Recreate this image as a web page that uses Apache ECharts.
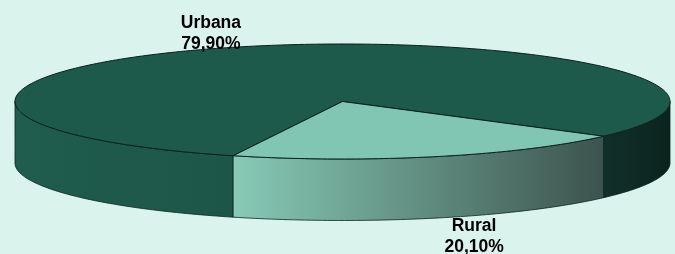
<!DOCTYPE html>
<html>
<head>
<meta charset="utf-8">
<script src="https://cdn.jsdelivr.net/npm/echarts@6/dist/echarts.min.js"></script>
<style>
  html, body { margin: 0; padding: 0; background: #daf3ec; }
  #main { width: 675px; height: 254px; }
</style>
</head>
<body>
<div id="main"></div>
<script>
// categorias
const categories = ['Urbana', 'Rural']
// porcentagem de cada uma
const values = [79.9, 20.1]

// cores do topo e das paredes
const topColors = ['#1d5a4b', '#81c6b2']
const wallColors = [
  { left: ['#205d4f', '#1c5648'], right: ['#11302a', '#0b231d'] },
  { left: ['#87cab6', '#3c534d'], right: ['#87cab6', '#3c534d'] }
]
const startAngle = 109.5 // graus, sentido horario na tela

const total = values.reduce((a, b) => a + b, 0)
const angles = []
let acc = startAngle
for (let v of values) {
  let span = v / total * 360
  angles.push([acc, acc + span])
  acc += span
}

function fmt(v) {
  return v.toFixed(2).replace('.', ',') + '%'
}

const chart = echarts.init(document.getElementById('main'), null, { renderer: 'canvas' })

function renderItem(params, api) {
  const W = api.getWidth()
  const H = api.getHeight()
  const cx = W * 0.5074
  const cy = H * 0.3996
  const rx = W * 0.4852
  const ry = H * 0.2264
  const depth = H * 0.242
  const i = params.dataIndex
  const s = angles[i][0]
  const e = angles[i][1]
  const pt = (a, dy) => {
    const r = a * Math.PI / 180
    return [cx + rx * Math.cos(r), cy + ry * Math.sin(r) + (dy || 0)]
  }
  const arc = (a1, a2, dy) => {
    const out = []
    const n = Math.max(2, Math.ceil(Math.abs(a2 - a1)))
    for (let k = 0; k <= n; k++) out.push(pt(a1 + (a2 - a1) * k / n, dy))
    return out
  }
  const children = []

  // topo
  children.push({
    type: 'polygon',
    z2: 5,
    shape: { points: [[cx, cy]].concat(arc(s, e)) },
    style: { fill: topColors[i], stroke: '#0a201a', lineWidth: 1 }
  })

  // paredes (so a metade da frente aparece)
  const fronts = [[0, 180], [360, 540]]
  for (let f of fronts) {
    const a1 = Math.max(s, f[0])
    const a2 = Math.min(e, f[1])
    if (a2 <= a1) continue
    const top = arc(a1, a2)
    const bottom = arc(a2, a1, depth)
    const mid = ((a1 + a2) / 2) % 360
    const c = mid < 90 && i === 0 ? wallColors[i].right : wallColors[i].left
    children.push({
      type: 'polygon',
      z2: 1,
      shape: { points: top.concat(bottom) },
      style: {
        fill: new echarts.graphic.LinearGradient(0, 0, 1, 0, [
          { offset: 0, color: c[0] },
          { offset: 1, color: c[1] }
        ]),
        stroke: '#0c241e',
        lineWidth: 0.8
      }
    })
  }

  // rotulo
  const m = (s + e) / 2
  const mr = m * Math.PI / 180
  const sn = Math.sin(mr)
  const lx = cx + rx * 1.4 * Math.cos(mr)
  const ly = cy + ry * 1.29 * sn + (sn > 0 ? depth : 0) + 3
  children.push({
    type: 'text',
    z2: 10,
    x: lx,
    y: ly,
    style: {
      text: categories[i] + '\n' + fmt(api.value(0)),
      align: 'center',
      verticalAlign: 'middle',
      fontFamily: 'Liberation Sans, Arial, sans-serif',
      fontWeight: 'bold',
      fontSize: 17.5,
      lineHeight: 21,
      fill: '#000'
    }
  })

  return { type: 'group', children: children }
}

const option = {
  backgroundColor: '#daf3ec',
  animation: false,
  series: [{
    type: 'custom',
    coordinateSystem: 'none',
    renderItem: renderItem,
    data: values.map(v => [v])
  }]
}
chart.setOption(option)
</script>
</body>
</html>
